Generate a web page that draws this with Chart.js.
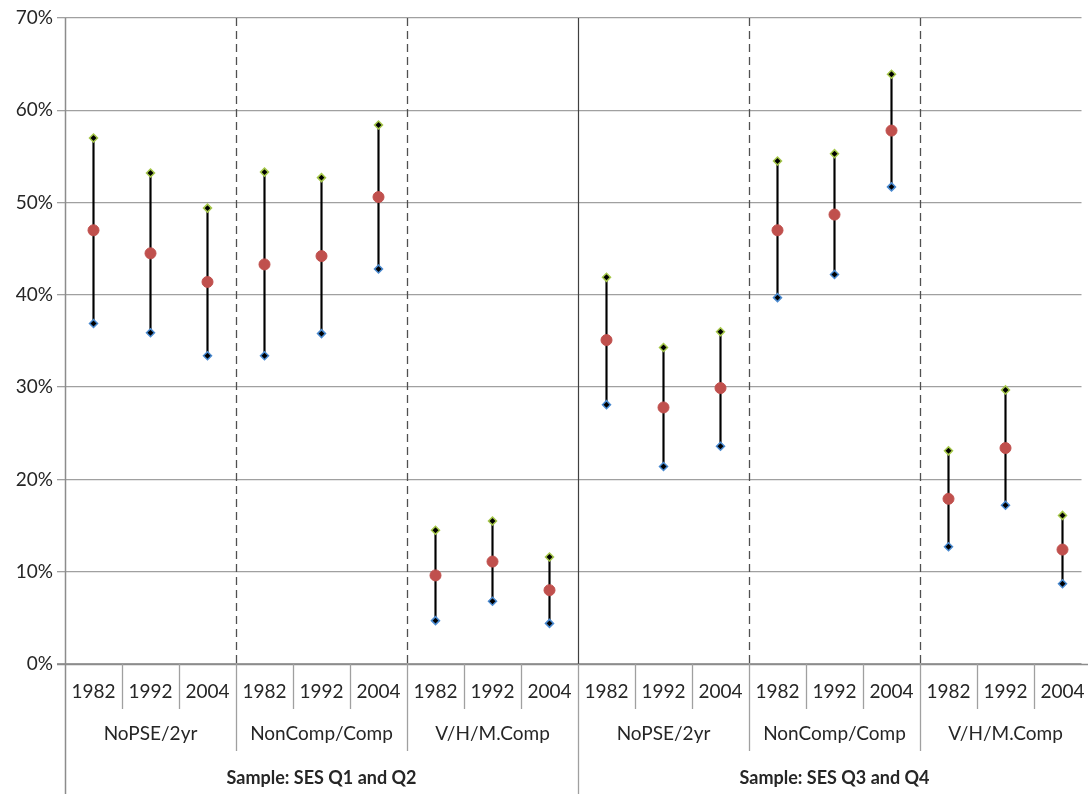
<!DOCTYPE html>
<html><head><meta charset="utf-8">
<script src="https://cdn.jsdelivr.net/npm/chart.js@4/dist/chart.umd.min.js"></script>
<style>html,body{margin:0;padding:0;background:#fff;overflow:hidden}#c{display:block}</style>
</head><body>
<canvas id="c" width="1088" height="794"></canvas>
<script>
const years = ["1982","1992","2004"];
const groups = ["NoPSE/2yr","NonComp/Comp","V/H/M.Comp","NoPSE/2yr","NonComp/Comp","V/H/M.Comp"];
const samples = ["Sample: SES Q1 and Q2","Sample: SES Q3 and Q4"];
const categories = [];
groups.forEach((g,gi)=>years.forEach(y=>categories.push(g+" "+y+" "+gi)));
const highValues = [57.0,53.2,49.4, 53.3,52.7,58.4, 14.5,15.5,11.6, 41.9,34.3,36.0, 54.5,55.3,63.9, 23.1,29.7,16.1];
const midValues  = [47.0,44.5,41.4, 43.3,44.2,50.6,  9.6,11.1, 8.0, 35.1,27.8,29.9, 47.0,48.7,57.8, 17.9,23.4,12.4];
const lowValues  = [36.9,35.9,33.4, 33.4,35.8,42.8,  4.7, 6.8, 4.4, 28.1,21.4,23.6, 39.7,42.2,51.7, 12.7,17.2, 8.7];
const yTicks = [0,10,20,30,40,50,60,70];

const FONT = "Lato, 'Open Sans', sans-serif";
const TXT = "#262626";

const decor = {
  id:'decor',
  afterLayout(chart){
    const x = chart.scales.x;
    x.left = 65;
    x.right = 65 + 18*57;
    x.width = x.right - x.left;
    x.configure();
  },
  beforeDatasetsDraw(chart){
    const {ctx, chartArea:a, scales:{x}} = chart;
    ctx.save();
    for (let k=3;k<18;k+=3){
      const px = Math.round((x.getPixelForValue(k-1)+x.getPixelForValue(k))/2)+0.5;
      ctx.beginPath();
      ctx.strokeStyle = k===9 ? '#404040' : '#505050';
      ctx.lineWidth = k===9 ? 1.2 : 1.3;
      ctx.setLineDash(k===9 ? [] : [8,5]);
      ctx.moveTo(px,a.top); ctx.lineTo(px,a.bottom);
      ctx.stroke();
    }
    ctx.restore();
  },
  afterDraw(chart){
    const {ctx, chartArea:a, scales:{x}} = chart;
    const H = chart.height;
    ctx.save();
    ctx.setLineDash([]);
    ctx.strokeStyle = '#8c8c8c'; ctx.lineWidth = 1.5;
    ctx.beginPath(); ctx.moveTo(a.left-8,a.bottom+0.5); ctx.lineTo(chart.width,a.bottom+0.5); ctx.stroke();
    ctx.beginPath(); ctx.moveTo(a.left+0.5,a.top); ctx.lineTo(a.left+0.5,H); ctx.stroke();
    const bnd = k => k===0 ? x.left : (k===18 ? x.right : (x.getPixelForValue(k-1)+x.getPixelForValue(k))/2);
    ctx.strokeStyle = '#a0a0a0'; ctx.lineWidth = 1.3;
    for (let k=1;k<18;k++){
      const px = Math.round(bnd(k))+0.5;
      let bottom = a.bottom+45;
      if (k%3===0) bottom = a.bottom+87;
      if (k===9) bottom = H;
      ctx.beginPath(); ctx.moveTo(px,a.bottom); ctx.lineTo(px,bottom); ctx.stroke();
    }
    ctx.fillStyle = TXT;
    ctx.textAlign = 'center'; ctx.textBaseline = 'middle';
    ctx.font = "19px " + FONT;
    for (let k=0;k<18;k++){
      ctx.fillText(years[k%3], x.getPixelForValue(k), a.bottom+28);
    }
    for (let g=0;g<6;g++){
      ctx.fillText(groups[g], (bnd(g*3)+bnd(g*3+3))/2, a.bottom+70);
    }
    ctx.font = "bold 18px " + FONT;
    for (let s=0;s<2;s++){
      ctx.fillText(samples[s], (bnd(s*9)+bnd(s*9+9))/2, a.bottom+114);
    }
    ctx.restore();
  }
};

new Chart(document.getElementById('c'), {
  data: {
    labels: categories,
    datasets: [
      { type:'bar', data: lowValues.map((v,i)=>[v,highValues[i]]), backgroundColor:'#000', barThickness:1.5, order:10 },
      { type:'line', data: highValues, showLine:false, pointStyle:'rectRot', pointRadius:4, pointBackgroundColor:'#000', pointBorderColor:'#a6c84a', pointBorderWidth:1.5, order:2 },
      { type:'line', data: lowValues, showLine:false, pointStyle:'rectRot', pointRadius:4, pointBackgroundColor:'#000', pointBorderColor:'#4a8ad0', pointBorderWidth:1.5, order:2 },
      { type:'line', data: midValues, showLine:false, pointStyle:'circle', pointRadius:5.5, pointBackgroundColor:'#c0504d', pointBorderColor:'#c0504d', pointBorderWidth:1, order:1 }
    ]
  },
  options: {
    responsive:false, animation:false,
    layout:{ padding:{ top:18, bottom:130, left:0, right:0 } },
    plugins:{ legend:{display:false}, tooltip:{enabled:false} },
    scales:{
      x:{ type:'category', display:false, offset:true },
      y:{ min:0, max:70,
          afterFit: s => { s.width = 65; },
          afterBuildTicks: s => { s.ticks = yTicks.map(v=>({value:v})); },
          grid:{ color:'#a0a0a0', lineWidth:1.3, tickLength:8, drawTicks:true },
          border:{ display:false },
          ticks:{ color:TXT, font:{ family:FONT, size:19 }, padding:4, callback: v => v+'%' } }
    }
  },
  plugins:[decor]
});
</script>
</body></html>
